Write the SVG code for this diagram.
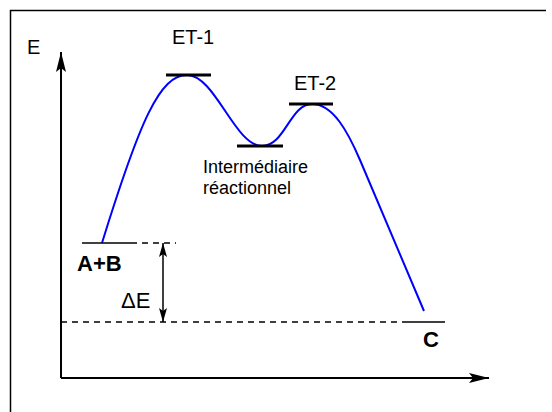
<svg xmlns="http://www.w3.org/2000/svg" width="552" height="412" viewBox="0 0 552 412">
<defs>
<style>
text{font-family:"Liberation Sans",Arial,sans-serif;fill:#000}
.lbl{font-size:18px}
.big{font-size:20px}
.de{font-size:22px}
.bold{font-size:22px;font-weight:bold}
.axis{stroke:#000;stroke-width:2;fill:none}
.lvl{stroke:#000;stroke-width:3}
.thin{stroke:#000;stroke-width:1.5}
.dash{stroke:#000;stroke-width:1.5;stroke-dasharray:6,5}
.curve{stroke:#0000ff;stroke-width:2;fill:none}
</style>
<marker id="ah" viewBox="0 0 20 10" refX="20" refY="5" markerWidth="20" markerHeight="10" markerUnits="userSpaceOnUse" orient="auto-start-reverse">
<path d="M0,0 L20,5 L0,10 L4,5 Z" fill="#000"/>
</marker>
<marker id="ah2" viewBox="0 0 14 8" refX="14" refY="4" markerWidth="14" markerHeight="8" markerUnits="userSpaceOnUse" orient="auto-start-reverse">
<path d="M0,0 L14,4 L0,8 L3,4 Z" fill="#000"/>
</marker>
</defs>
<rect width="552" height="412" fill="#fff"/>
<g id="frame">
<line x1="10" y1="10.5" x2="546" y2="10.5" stroke="#000" stroke-width="1.5"/>
<line x1="10.5" y1="10" x2="10.5" y2="412" stroke="#000" stroke-width="1.5"/>
</g>
<g id="axes">
<line class="axis" x1="61" y1="378" x2="61" y2="52" marker-end="url(#ah)"/>
<line class="axis" x1="61" y1="378" x2="489" y2="378" marker-end="url(#ah)"/>
<text class="big" x="27" y="54">E</text>
</g>
<g id="connectors">
<path class="curve" d="M102,243 C140,120 160,75 187,75 C215,75 235,146 262,146 C285,146 290,104 312,104 C333,104 348,132 360,160 L424,311"/>
<line class="dash" x1="131" y1="243" x2="176" y2="243"/>
<line class="dash" x1="61" y1="322" x2="406" y2="322"/>
<line class="thin" x1="163" y1="243" x2="163" y2="322" marker-start="url(#ah2)" marker-end="url(#ah2)"/>
</g>
<g id="AB">
<line class="thin" x1="82" y1="243" x2="131" y2="243"/>
<text class="bold" x="77" y="271">A+B</text>
</g>
<g id="ET1">
<line class="lvl" x1="166" y1="75" x2="211" y2="75"/>
<text class="big" x="172" y="44">ET-1</text>
</g>
<g id="inter">
<line class="lvl" x1="237" y1="146" x2="283" y2="146"/>
<text class="lbl" x="203" y="173">Intermédiaire</text>
<text class="lbl" x="203" y="194">réactionnel</text>
</g>
<g id="ET2">
<line class="lvl" x1="289" y1="104" x2="333" y2="104"/>
<text class="big" x="294" y="90">ET-2</text>
</g>
<g id="C">
<line class="thin" x1="406" y1="322" x2="445" y2="322"/>
<text class="bold" x="423" y="347">C</text>
</g>
<g id="dE">
<text class="de" x="121" y="308">ΔE</text>
</g>
</svg>
